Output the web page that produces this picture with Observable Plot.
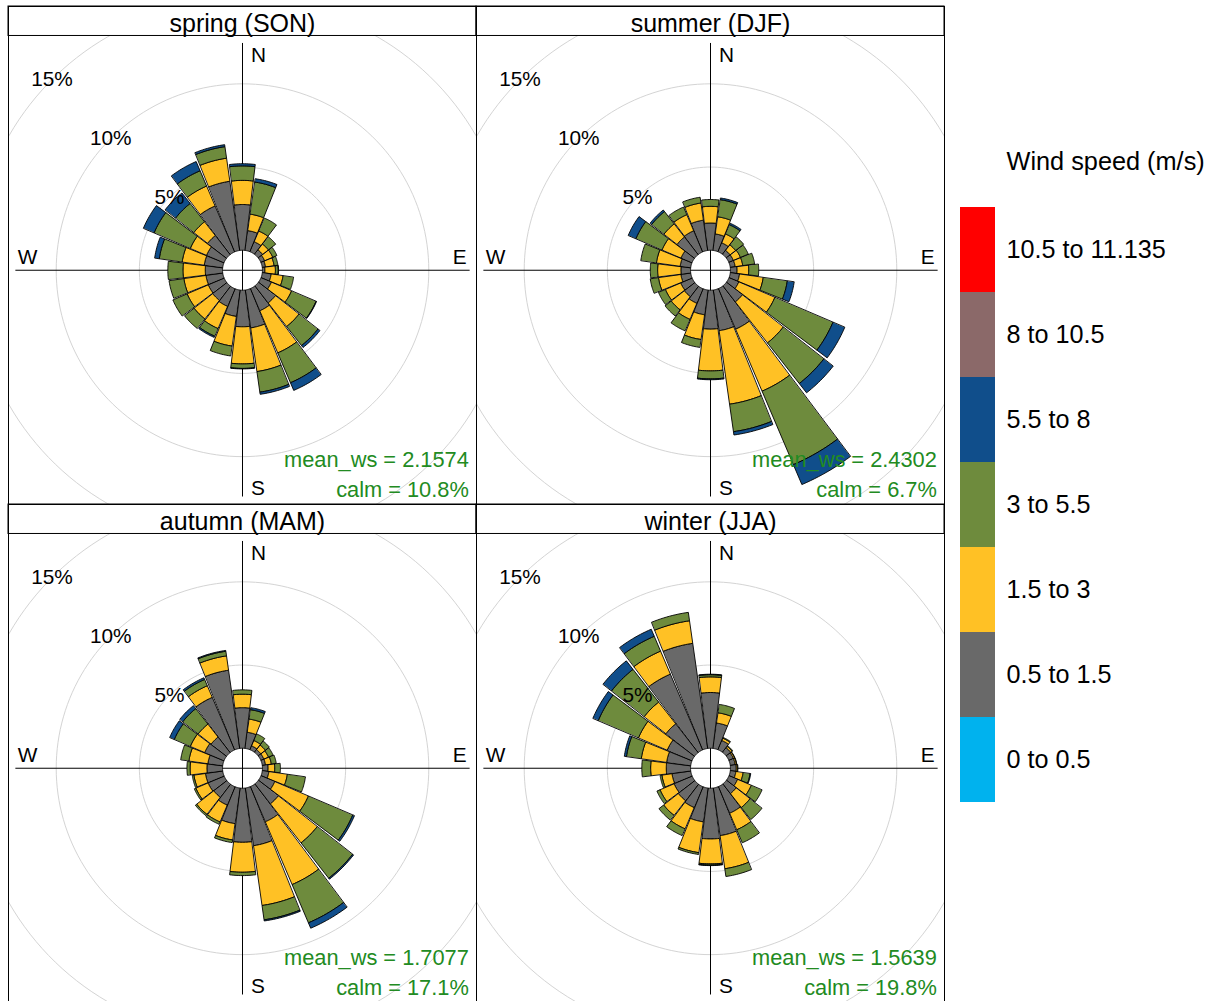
<!DOCTYPE html>
<html>
<head>
<meta charset="utf-8">
<script src="https://cdn.jsdelivr.net/npm/d3@7"></script>
<script src="https://cdn.jsdelivr.net/npm/@observablehq/plot@0.6"></script>
<style>
  html, body { margin: 0; padding: 0; background: #fff; overflow: hidden; }
  #wrap { position: relative; width: 1213px; height: 1001px; }
  #roses { position: absolute; left: 0; top: 0; }
  #legend { position: absolute; left: 950px; top: 0; }
</style>
</head>
<body>
<div id="wrap"><div id="roses"></div><div id="legend"></div></div>
<script>
// ---------------- data ----------------
const dirs = [15, 30, 45, 60, 75, 90, 105, 120, 135, 150, 165, 180, 195, 210, 225, 240, 255, 270, 285, 300, 315, 330, 345, 360];
const seasonNames = ["spring (SON)", "summer (DJF)", "autumn (MAM)", "winter (JJA)"];
const meanWs = ["2.1574", "2.4302", "1.7077", "1.5639"];
const calmPct = ["10.8", "6.7", "17.1", "19.8"];
const speedBins = ["0 to 0.5", "0.5 to 1.5", "1.5 to 3", "3 to 5.5", "5.5 to 8", "8 to 10.5", "10.5 to 11.135"];
const binColors = ["#00B2EE", "#696969", "#FFC125", "#6E8B3D", "#104E8B", "#8B6969", "#FF0000"];
const ringPcts = [5, 10, 15, 20];
const ringLabelPcts = [5, 10, 15];
const compass = ["N", "E", "S", "W"];
const legendTitle = "Wind speed (m/s)";

// frequencies (%) by direction, one array per wind-speed interval
const spring_05_15 = [1.2, 0.65, 0.34, 0.25, 0.2, 0.15, 0.54, 0.68, 1.3, 1.45, 2.3, 2.2, 1.6, 1.15, 1.08, 1.04, 1.02, 1.04, 1.12, 1.14, 1.45, 3.0, 4.2, 2.75];
const spring_15_3  = [1.0, 0.7, 0.44, 0.53, 0.52, 0.63, 0.72, 1.32, 1.8, 2.75, 2.65, 2.23, 1.8, 1.45, 1.42, 1.38, 1.34, 1.34, 1.34, 1.06, 1.05, 1.3, 1.4, 1.45];
const spring_3_55  = [1.95, 0.85, 0.56, 0.27, 0.23, 0.17, 0.64, 1.6, 1.45, 1.95, 1.25, 0.27, 0.6, 0.5, 0.73, 0.93, 0.9, 0.91, 1.39, 2.37, 1.4, 1.0, 0.7, 0.87];
const spring_55_8  = [0.2, 0, 0, 0, 0, 0.02, 0, 0.03, 0.15, 0.5, 0.13, 0.03, 0, 0.08, 0, 0, 0, 0, 0.28, 0.7, 0.8, 0.6, 0.12, 0.13];

const summer_05_15 = [1.0, 0.58, 0.3, 0.3, 0.3, 0.4, 0.56, 0.64, 1.22, 2.65, 2.47, 2.34, 1.5, 0.95, 0.8, 0.75, 0.6, 0.58, 0.64, 0.72, 1.34, 1.38, 1.84, 1.64];
const summer_15_3  = [1.04, 0.58, 0.42, 0.46, 0.46, 0.7, 1.44, 2.36, 3.13, 4.05, 4.46, 2.51, 1.5, 1.05, 1.0, 1.0, 1.36, 1.4, 1.44, 1.24, 1.0, 1.05, 1.04, 1.0];
const summer_3_55  = [1.04, 0.6, 0.61, 0.51, 0.72, 0.6, 1.46, 3.8, 3.1, 4.8, 1.67, 0.48, 0.48, 0.75, 0.47, 0.45, 0.5, 0.44, 0.95, 1.71, 0.94, 0.5, 0.35, 0.41];
const summer_55_8  = [0.1, 0.1, 0, 0, 0, 0, 0.42, 0.77, 0.71, 1.3, 0.2, 0.05, 0, 0, 0, 0, 0, 0, 0, 0.5, 0.12, 0, 0, 0];

const autumn_05_15 = [0.98, 0.25, 0.2, 0.2, 0.2, 0.34, 0.4, 0.9, 1.52, 2.3, 3.5, 3.25, 2.16, 1.2, 1.0, 1.05, 1.05, 0.94, 0.9, 1.26, 1.18, 3.43, 4.75, 2.44];
const autumn_15_3  = [0.8, 0.35, 0.35, 0.3, 0.35, 0.4, 1.12, 2.2, 2.98, 4.1, 3.63, 1.8, 0.99, 1.1, 1.3, 0.8, 0.7, 1.01, 1.15, 0.94, 0.99, 0.76, 0.87, 0.81];
const autumn_3_55  = [0.57, 0.43, 0.3, 0.3, 0.3, 0.34, 1.1, 2.9, 2.7, 2.5, 0.87, 0.2, 0.16, 0.15, 0.1, 0.1, 0.1, 0.19, 0.5, 1.05, 1.18, 0.41, 0.28, 0.26];
const autumn_55_8  = [0.12, 0, 0, 0, 0, 0, 0, 0.11, 0.07, 0.35, 0.07, 0, 0, 0, 0, 0, 0, 0, 0, 0.3, 0.23, 0.11, 0.05, 0];

const winter_05_15 = [1.54, 0.6, 0.35, 0.3, 0.3, 0.35, 0.34, 0.56, 0.74, 1.74, 2.89, 3.05, 2.05, 1.36, 1.26, 1.18, 1.14, 1.46, 1.46, 1.62, 2.19, 4.95, 6.38, 3.35];
const winter_15_3  = [0.62, 0.15, 0.1, 0.08, 0.08, 0.07, 0.44, 0.9, 1.06, 1.08, 2.01, 1.5, 1.87, 1.39, 1.12, 0.92, 0.61, 0.94, 1.54, 1.88, 1.66, 1.5, 1.37, 0.94];
const winter_3_55  = [0.51, 0.05, 0.05, 0.02, 0.02, 0.03, 0.42, 0.7, 0.92, 0.85, 0.47, 0.07, 0.11, 0.44, 0.36, 0.2, 0.11, 0.53, 0.9, 2.63, 2.5, 0.97, 0.51, 0.13];
const winter_55_8  = [0, 0, 0, 0, 0, 0, 0.04, 0, 0, 0, 0, 0.03, 0, 0, 0, 0, 0, 0, 0.13, 0.35, 0.65, 0.46, 0, 0.03];

const seasonSeries = [
  [spring_05_15, spring_15_3, spring_3_55, spring_55_8],
  [summer_05_15, summer_15_3, summer_3_55, summer_55_8],
  [autumn_05_15, autumn_15_3, autumn_3_55, autumn_55_8],
  [winter_05_15, winter_15_3, winter_3_55, winter_55_8]
];

// ---------------- geometry helpers ----------------
const K = 16.66;          // px per percent
const HOLE = 1.2;         // radial offset (percent units)
const HALF = 6.9;         // half angular width of a paddle (deg)
const COLW = 468.75, PANELH = 469, STRIPH = 29.5;
const u = px => px / K;
const XH = u(COLW / 2), YLO = -u(PANELH / 2), YHI = u(PANELH / 2 + STRIPH);
const rad = a => a * Math.PI / 180;
const polar = (r, a) => ({x: (HOLE + r) * Math.sin(rad(a)), y: (HOLE + r) * Math.cos(rad(a))});

const panels = seasonNames.map((name, i) => ({name, col: i % 2, row: Math.floor(i / 2), mean: meanWs[i], calm: calmPct[i]}));

const wedges = [];
panels.forEach((p, i) => {
  dirs.forEach((dir, j) => {
    let r0 = 0;
    seasonSeries[i].forEach((series, b) => {
      const v = series[j];
      if (!(v > 0)) return;
      const r1 = r0 + v, id = `${i}-${dir}-${b}`, bin = speedBins[b + 1];
      const n = 12;
      for (let s = 0; s <= n; s++) wedges.push({id, bin, col: p.col, row: p.row, ...polar(r0, dir - HALF + 2 * HALF * s / n)});
      for (let s = n; s >= 0; s--) wedges.push({id, bin, col: p.col, row: p.row, ...polar(r1, dir - HALF + 2 * HALF * s / n)});
      r0 = r1;
    });
  });
});

const ringPts = ringPcts.flatMap(r => d3.range(0, 360, 2).map(a => ({ring: r, ...polar(r, a)})));

const FONT = "'Liberation Sans', Arial, Helvetica, sans-serif";

const roses = Plot.plot({
  width: 945,
  height: 1002.5,
  marginLeft: 7.5, marginRight: 0, marginTop: 5.5, marginBottom: 0,
  fx: {domain: [0, 1], padding: 0, axis: null},
  fy: {domain: [0, 1], padding: 0, axis: null},
  x: {domain: [-XH, XH], axis: null},
  y: {domain: [YLO, YHI], axis: null},
  color: {domain: speedBins, range: binColors},
  style: {fontFamily: FONT, background: "white", color: "black"},
  marks: [
    Plot.line(ringPts, {x: "x", y: "y", z: "ring", curve: "linear-closed", stroke: "#D4D4D4", strokeWidth: 1, clip: true}),
    Plot.ruleX([0], {y1: -u(227), y2: u(227), stroke: "black", strokeWidth: 1}),
    Plot.ruleY([0], {x1: -u(227), x2: u(228), stroke: "black", strokeWidth: 1}),
    Plot.line(wedges, {x: "x", y: "y", z: "id", fill: "bin", fx: "col", fy: "row", stroke: "black", strokeWidth: 0.9, curve: "linear-closed"}),
    Plot.text(ringLabelPcts, {x: r => polar(r, 315).x, y: r => polar(r, 315).y, text: r => r + "%", fontSize: 20.8, lineAnchor: "middle", textAnchor: "middle"}),
    Plot.text([compass[0]], {x: 0, y: u(208.3), text: d => d, textAnchor: "start", lineAnchor: "bottom", dx: 8.5, fontSize: 20.8}),
    Plot.text([compass[2]], {x: 0, y: -u(225), text: d => d, textAnchor: "start", lineAnchor: "bottom", dx: 8.5, fontSize: 20.8}),
    Plot.text([compass[1]], {x: u(224.5), y: u(6.7), text: d => d, textAnchor: "end", lineAnchor: "bottom", fontSize: 20.8}),
    Plot.text([compass[3]], {x: -u(225), y: u(6.7), text: d => d, textAnchor: "start", lineAnchor: "bottom", fontSize: 20.8}),
    Plot.text(panels, {fx: "col", fy: "row", x: XH - u(7.7), y: -u(196.7), text: d => `mean_ws = ${d.mean}`, textAnchor: "end", lineAnchor: "bottom", fill: "#228B22", fontSize: 21.8}),
    Plot.text(panels, {fx: "col", fy: "row", x: XH - u(7.7), y: -u(226.7), text: d => `calm = ${d.calm}%`, textAnchor: "end", lineAnchor: "bottom", fill: "#228B22", fontSize: 21.8}),
    Plot.rect([0], {x1: -XH, x2: XH, y1: u(PANELH / 2), y2: YHI, fill: "white", stroke: "black", strokeWidth: 1}),
    Plot.text(panels, {fx: "col", fy: "row", x: 0, y: u(PANELH / 2 + 4.3), text: "name", textAnchor: "middle", lineAnchor: "bottom", fontSize: 25}),
    Plot.frame({stroke: "black", strokeWidth: 1})
  ]
});
document.getElementById("roses").appendChild(roses);

const legend = Plot.plot({
  width: 263,
  height: 1001,
  marginLeft: 10, marginRight: 218, marginTop: 206, marginBottom: 198,
  x: {domain: ["key"], axis: null, padding: 0},
  y: {domain: speedBins.slice().reverse(), axis: null, padding: 0},
  color: {domain: speedBins, range: binColors},
  style: {fontFamily: FONT, background: "white", color: "black"},
  marks: [
    Plot.cell(speedBins, {x: () => "key", y: d => d, fill: d => d, inset: 0}),
    Plot.text(speedBins, {x: () => "key", y: d => d, text: d => d, textAnchor: "start", lineAnchor: "middle", dx: 28.5, fontSize: 25.2}),
    Plot.text([legendTitle], {frameAnchor: "top-left", text: d => d, dx: 46, dy: -45, textAnchor: "start", lineAnchor: "middle", fontSize: 25.3})
  ]
});
document.getElementById("legend").appendChild(legend);
</script>
</body>
</html>
